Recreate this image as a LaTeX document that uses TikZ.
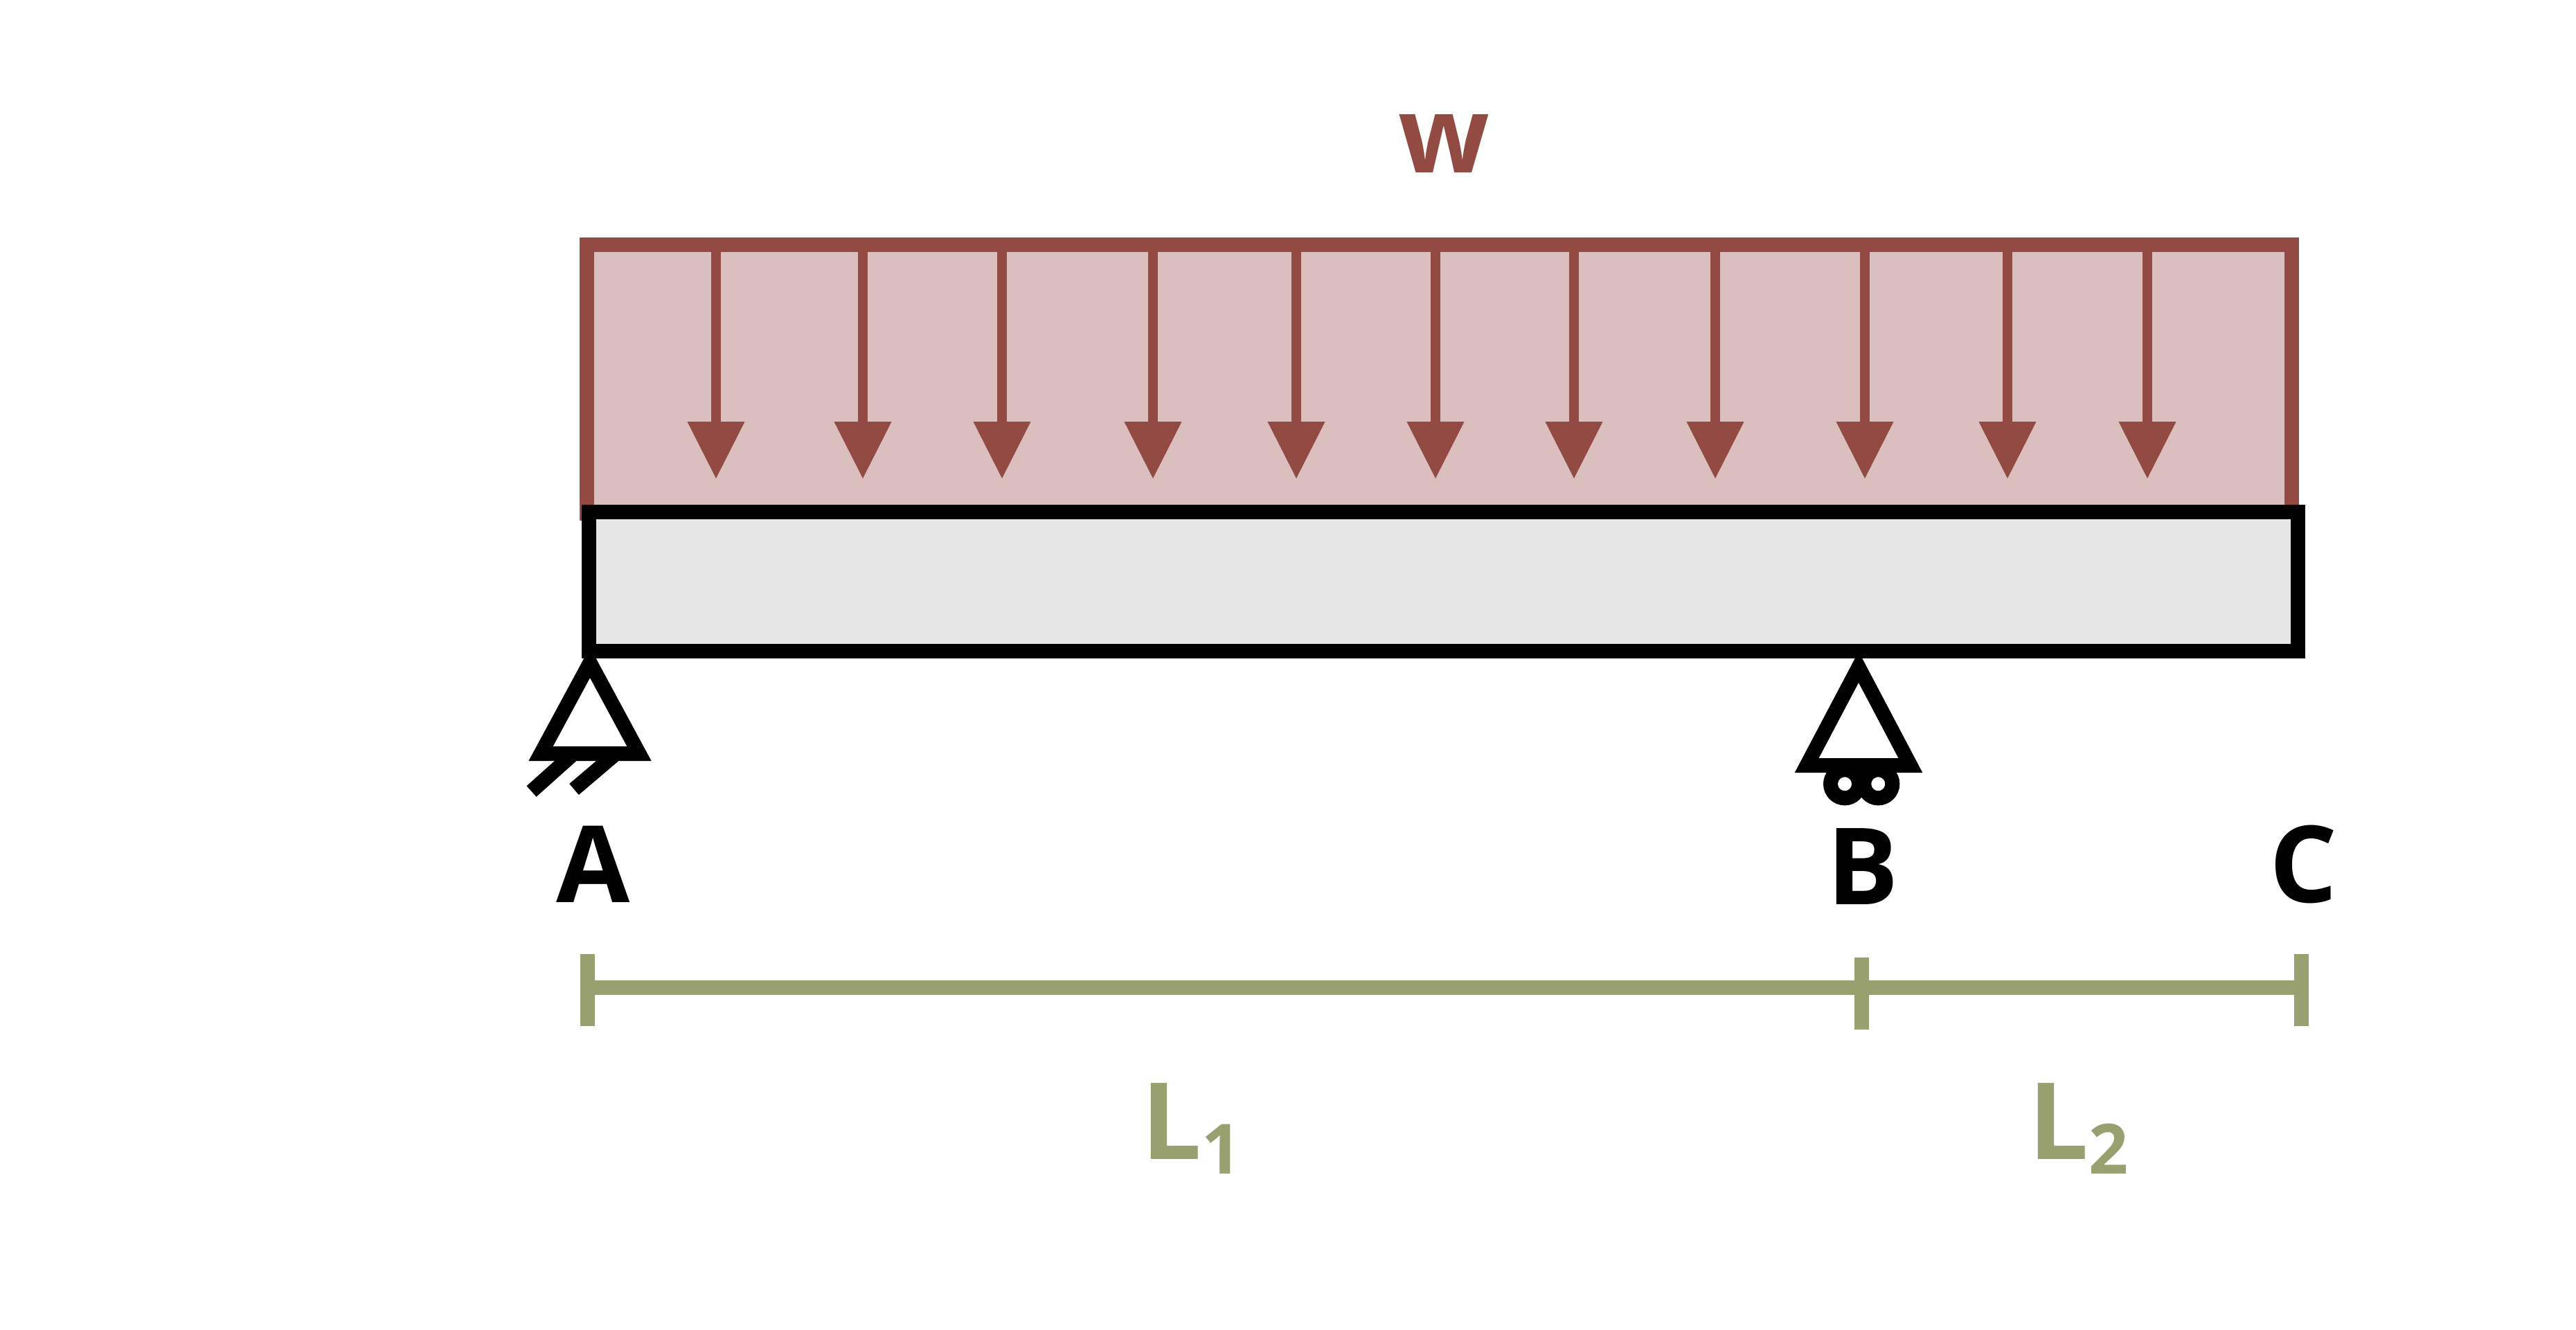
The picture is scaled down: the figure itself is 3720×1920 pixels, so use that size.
\documentclass[tikz,border=0pt]{standalone}
\usepackage{fontspec}
\setmainfont{Open Sans}[BoldFont=* Bold]
\usetikzlibrary{arrows.meta}
\definecolor{loadred}{HTML}{934A43}
\definecolor{loadfill}{HTML}{DBBFBF}
\definecolor{beamfill}{HTML}{E6E6E6}
\definecolor{dimgreen}{HTML}{98A06F}
\begin{document}
\begin{tikzpicture}[x=1pt, y=-1pt,
  line width=21pt,
  loadarrow/.style={draw=loadred, line width=13.7pt, -{Triangle[length=82.5pt, width=79pt]}},
  support/.style={draw=black, fill=white},
  dimline/.style={draw=dimgreen},
  bigtext/.style={inner sep=0pt, anchor=base, font=\fontsize{154}{154}\selectfont\bfseries},
  subtext/.style={inner sep=0pt, anchor=base, font=\fontsize{100}{100}\selectfont\bfseries, dimgreen}]
\path [use as bounding box] (0,0) rectangle (3720,1920);
% load block
\path [draw=loadred, fill=loadfill] (847.5,353.8) rectangle (3309.5,741.7);
\foreach \x in {1034,1246,1447,1665,1872,2073,2273,2477,2693,2899,3101} {
  \draw [loadarrow] (\x,354) -- (\x,691.7);
}
\node [bigtext, loadred] (loadw) at (2085,249) {w};
% beam
\path [draw=black, fill=beamfill] (850.5,739.5) rectangle (3318.5,940);
% pinned support at A
\foreach \a/\b/\c/\d in {829/1088/767.5/1143,889/1089/829/1140} {
  \draw [black] (\a,\b) -- (\c,\d);
}
\path [support] (852,957) -- (781,1088.5) -- (923,1088.5) -- cycle;
% roller support at B
\foreach \x in {2664,2712.3} {
  \draw [black] (\x,1132.3) circle [radius=20.5];
}
\path [support] (2684,963.5) -- (2609.1,1105.5) -- (2758.9,1105.5) -- cycle;
% letters
\node [bigtext] (ptA) at (856.5,1303) {A};
\node [bigtext] (ptB) at (2690,1306) {B};
\node [bigtext] (ptC) at (3327,1303) {C};
% dimension line
\coordinate (dimA) at (848.5,1426.5);
\coordinate (dimC) at (3323,1426.5);
\draw [dimline] (dimA) -- (dimC);
\foreach \x/\t/\b in {848.5/1378/1482,2688/1383/1487,3323/1378/1482} {
  \draw [dimline] (\x,\t) -- (\x,\b);
}
\node [bigtext, dimgreen] (lenA) at (1692,1674) {L};
\node [subtext] (subA) at (1764,1695) {1};
\node [bigtext, dimgreen] (lenB) at (2973,1674) {L};
\node [subtext] (subB) at (3045,1695) {2};
\end{tikzpicture}
\end{document}
